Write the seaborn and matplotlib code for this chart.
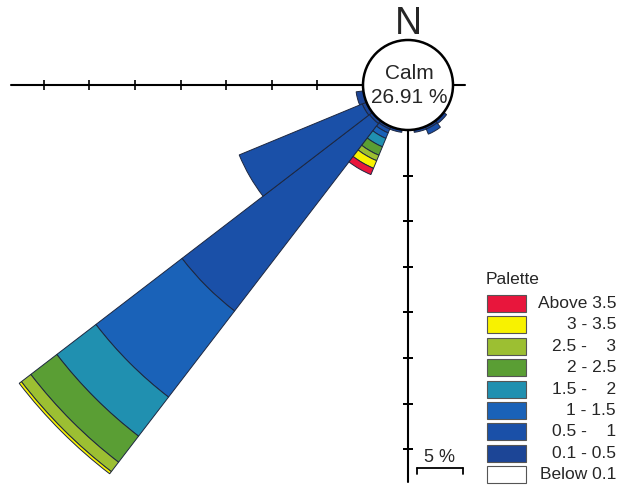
import numpy as np
import matplotlib
matplotlib.use("Agg")
import matplotlib.pyplot as plt
from matplotlib.patches import Circle, Rectangle
import seaborn as sns

sns.set_style("white")
plt.rcParams["font.family"] = ["Liberation Sans", "DejaVu Sans"]

#------------------------- data -------------------------------------

calm_pct = 26.91
directions = [135, 150, 165, 195, 210, 225, 240, 255]

speed_labels = ["0.1 - 0.5", "0.5 -    1", "1 - 1.5", "1.5 -    2",
                "2 - 2.5", "2.5 -    3", "3 - 3.5", "Above 3.5"]
speed_colors = ["#1c4596", "#1a50a8", "#1a62b8", "#2090b0",
                "#5a9e34", "#9cbf32", "#f8f200", "#e8163c"]

# frequency (%) of each speed class per direction
f_01_05 = [0.4, 0.3, 0.3, 0.3, 0.3, 0.4, 0.5, 0.8]
f_05_1 = [0.0, 0.6, 0.0, 0.0, 0.45, 25.9, 14.6, 0.0]
f_1_15 = [0.0, 0.0, 0.0, 0.0, 0.65, 11.9, 0.0, 0.0]
f_15_2 = [0.0, 0.0, 0.0, 0.0, 1.0, 5.4, 0.0, 0.0]
f_2_25 = [0.0, 0.0, 0.0, 0.0, 1.0, 3.6, 0.0, 0.0]
f_25_3 = [0.0, 0.0, 0.0, 0.0, 0.65, 1.3, 0.0, 0.0]
f_3_35 = [0.0, 0.0, 0.0, 0.0, 0.9, 0.3, 0.0, 0.0]
f_above = [0.0, 0.0, 0.0, 0.0, 0.75, 0.0, 0.0, 0.0]

freqs = [f_01_05, f_05_1, f_1_15, f_15_2, f_2_25, f_25_3, f_3_35, f_above]

ring_ticks = [5, 10, 15, 20, 25, 30, 35]

#------------------------- layout -----------------------------------

W, H = 618, 491
cx, cy = 408, 85          # centre of the rose in pixels
px_per_pct = 9.12
r_calm = 45 / px_per_pct   # calm circle radius, in % units
R_px = 500

fig = plt.figure(figsize=(W / 100, H / 100), dpi=100)
ax = fig.add_axes([(cx - R_px) / W, (H - cy - R_px) / H, 2 * R_px / W, 2 * R_px / H],
                  projection="polar")
ax.set_theta_zero_location("N")
ax.set_theta_direction(-1)
ax.set_ylim(0, R_px / px_per_pct)
ax.set_axis_off()

#------------------------- wedges -----------------------------------

theta = np.deg2rad(directions)
bottom = np.full(len(directions), r_calm)
for vals, col in zip(freqs, speed_colors):
    vals = np.array(vals)
    mask = vals > 0
    ax.bar(theta[mask], vals[mask], width=np.deg2rad(15), bottom=bottom[mask],
           color=col, edgecolor="#1d2740", linewidth=0.7, zorder=2)
    bottom = bottom + vals

#------------------------- axes lines -------------------------------

ax_end = 38.6
ax.plot([np.deg2rad(270)] * 2, [r_calm, r_calm + ax_end], color="black", lw=1.5, zorder=3)
ax.plot([np.deg2rad(180)] * 2, [r_calm, r_calm + ax_end], color="black", lw=1.5, zorder=3)
ax.plot([np.deg2rad(90)] * 2, [r_calm, r_calm + 1.3], color="black", lw=1.5, zorder=3)
ax.plot([np.deg2rad(270)] * len(ring_ticks), r_calm + np.array(ring_ticks), ls="none",
        marker="|", ms=7, mew=1.2, color="black", zorder=3)
ax.plot([np.deg2rad(180)] * len(ring_ticks), r_calm + np.array(ring_ticks), ls="none",
        marker="_", ms=7, mew=1.2, color="black", zorder=3)

ax.add_patch(Circle((0.5, 0.5), 0.5 * r_calm / ax.get_ylim()[1], transform=ax.transAxes,
                    facecolor="white", edgecolor="black", lw=1.8, zorder=5))

#------------------------- texts, legend, scale ---------------------

ov = fig.add_axes([0, 0, 1, 1])
ov.set_xlim(0, W)
ov.set_ylim(H, 0)
ov.set_axis_off()

ov.text(cx, 24, "N", ha="center", va="center", fontsize=27)
ov.text(cx + 1, 73, "Calm", ha="center", va="center", fontsize=15)
ov.text(cx + 1, 97, f"{calm_pct:.2f} %", ha="center", va="center", fontsize=15)

# scale bar
bar_x0 = 417
ov.plot([bar_x0, bar_x0 + 5 * px_per_pct], [468, 468], color="black", lw=1.3)
ov.plot([bar_x0, bar_x0], [468, 474], color="black", lw=1.3)
ov.plot([bar_x0 + 5 * px_per_pct] * 2, [468, 474], color="black", lw=1.3)
ov.text(bar_x0 + 2.5 * px_per_pct, 458, "5 %", ha="center", va="center", fontsize=13)

# palette
ov.text(486, 279, "Palette", ha="left", va="center", fontsize=12.5)
legend_labels = speed_labels[::-1] + ["Below 0.1"]
legend_colors = speed_colors[::-1] + ["white"]
for i, (lab, col) in enumerate(zip(legend_labels, legend_colors)):
    y0 = 295 + i * 21.4
    ov.add_patch(Rectangle((487, y0), 39, 17, facecolor=col, edgecolor="#555555", lw=0.8))
    ov.text(616, y0 + 8.5, lab, ha="right", va="center", fontsize=12.5)

fig.savefig("out.png", dpi=100)
